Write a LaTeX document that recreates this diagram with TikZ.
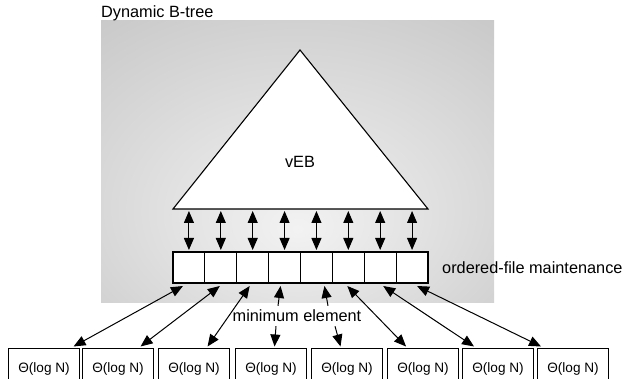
\documentclass[tikz,border=0pt]{standalone}
\usepackage{fontspec}
\setmainfont{Liberation Sans}
\usetikzlibrary{arrows.meta,calc}
\definecolor{shin}{gray}{0.95}
\definecolor{shout}{gray}{0.66}
\pgfdeclareradialshading{bgshade}{\pgfpoint{0bp}{-12bp}}{color(0bp)=(shin); color(71bp)=(shout)}
\begin{document}
\begin{tikzpicture}[x=1pt,y=-1pt,
  cell/.style={draw, line width=1.1pt, fill=white, minimum width=31.875pt, minimum height=31pt, inner sep=0pt, outer sep=0pt},
  lbox/.style={draw, line width=1.1pt, fill=white, minimum width=71pt, minimum height=40pt, inner sep=0pt, anchor=north west, font=\fontsize{13.6}{15}\selectfont},
  conn/.style={{Triangle[length=12pt,width=10pt]}-{Triangle[length=12pt,width=10pt]}, line width=1pt},
  oneway/.style={-{Triangle[length=12pt,width=10pt]}, line width=1pt},
  lbl/.style={font=\fontsize{16.3}{18}\selectfont, inner sep=1pt}]
\useasboundingbox (0,0) rectangle (627,379);
\clip (0,0) rectangle (627,379);
\shade[shading=bgshade] (101,21) rectangle (494,303);
\node[lbl, anchor=west] (title) at (100,13) {Dynamic B-tree};
\draw[line width=1.1pt, fill=white, line join=miter] (173,209) -- (300,50) -- (428,209) -- cycle;
\node[lbl] (veb) at (300,162) {vEB};
\coordinate (tb) at (300,211);
\foreach \i in {1,...,8}
  \node[cell] (c\i) at ({173+31.875*(\i-0.5)},267.5) {};
\foreach \i in {1,...,8}
  \draw[conn] (c\i.north |- tb) -- ([yshift=2pt]c\i.north);
\node[lbl, anchor=west] (ofm) at (441,268) {ordered-file maintenance};
\foreach \i/\x in {1/8,2/82,3/158,4/235,5/311,6/387,7/462,8/537}
  \node[lbox] (m\i) at (\x,348) {Θ(log N)};
\node[lbl, inner ysep=4pt] (minel) at (297,316) {minimum element};
\draw[conn] ([xshift=-6pt,yshift=-3pt]c1.south) -- ([xshift=29.5pt,yshift=1.5pt]m1.north);
\draw[conn] ([xshift=-1pt,yshift=-3pt]c2.south) -- ([xshift=22.5pt,yshift=1.5pt]m2.north);
\draw[conn] ([xshift=-3pt,yshift=-3pt]c3.south) -- ([xshift=13.5pt,yshift=1.5pt]m3.north);
\draw[conn] ([xshift=-1pt,yshift=-3pt]c6.south) -- ([xshift=-17pt,yshift=1.5pt]m6.north);
\draw[conn] ([xshift=3pt,yshift=-3pt]c7.south) -- ([xshift=-24pt,yshift=1.5pt]m7.north);
\draw[conn] ([xshift=5pt,yshift=-3pt]c8.south) -- ([xshift=-32pt,yshift=1.5pt]m8.north);
\draw[oneway] ([xshift=-19pt]minel.north) -- ([xshift=-4pt,yshift=-3pt]c4.south);
\draw[oneway] ([xshift=31pt]minel.north) -- ([xshift=8pt,yshift=-3pt]c5.south);
\draw[oneway] ([xshift=-21pt]minel.south) -- ([xshift=3.5pt,yshift=1.5pt]m4.north);
\draw[oneway] ([xshift=38pt]minel.south) -- ([xshift=-6.5pt,yshift=1.5pt]m5.north);
\end{tikzpicture}
\end{document}
